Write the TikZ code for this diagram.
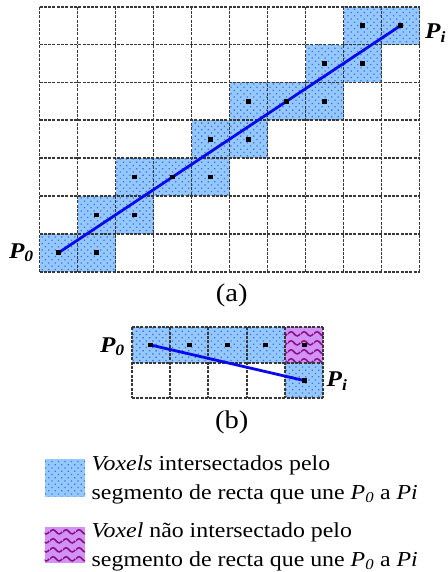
\documentclass[tikz,border=0pt]{standalone}
\usepackage{fontspec}
\setmainfont[FakeStretch=1.12]{Liberation Serif}
\usetikzlibrary{patterns.meta}
\definecolor{cellblue}{RGB}{148,200,255}
\definecolor{dotblue}{RGB}{60,110,250}
\definecolor{cellpurple}{RGB}{210,145,245}
\definecolor{wavepurple}{RGB}{135,15,135}
\definecolor{gridgray}{RGB}{55,55,55}
\definecolor{segblue}{RGB}{10,10,235}
\tikzdeclarepattern{
  name=voxwaves,
  bottom left={(0pt,0pt)},
  top right={(12.5pt,9pt)},
  tile size={(12.5pt,9pt)},
  code={
    \draw[line width=1.6pt] (0pt,4.5pt) sin (3.125pt,6.8pt) cos (6.25pt,4.5pt) sin (9.375pt,2.2pt) cos (12.5pt,4.5pt);
  }
}
\begin{document}
\begin{tikzpicture}[x=1pt,y=-1pt,
  voxblue/.style={fill=cellblue, postaction={pattern={Dots[distance=4.6pt,radius=0.9pt,angle=45]}, pattern color=dotblue}},
  voxpurple/.style={fill=cellpurple, postaction={pattern=voxwaves, pattern color=wavepurple}},
  gridline/.style={draw=gridgray, line width=1.8pt, dash pattern=on 3pt off 1.3pt},
  segline/.style={draw=segblue, line width=2.8pt},
  centerdot/.style={fill=black},
  plabel/.style={font=\fontsize{22.5}{26}\selectfont\bfseries\itshape, inner sep=0pt},
  captext/.style={font=\fontsize{25.5}{30}\selectfont, inner sep=0pt, anchor=base},
  legendtext/.style={font=\fontsize{21.3}{29}\selectfont, inner sep=0pt, anchor=base west},
]
\useasboundingbox (0,0) rectangle (447,572);

% ---------- (a) ----------
\foreach \c/\r in {8/0,9/0,7/1,8/1,5/2,6/2,7/2,4/3,5/3,2/4,3/4,4/4,1/5,2/5,0/6,1/6}
  \fill[voxblue] ({39.5+38*\c},{6.7+37.857*\r}) rectangle ++(38,37.857);
\foreach \i in {0,...,10}
  \draw[gridline] ({39.5+38*\i},6.7) -- ({39.5+38*\i},271.7);
\foreach \j in {0,...,7}
  \draw[gridline] (39.5,{6.7+37.857*\j}) -- (419.5,{6.7+37.857*\j});
\coordinate (a0) at (58.5,252.77);
\coordinate (ai) at (400.5,25.63);
\draw[segline] (a0) -- (ai);
\foreach \c/\r in {8/0,9/0,7/1,8/1,5/2,6/2,7/2,4/3,5/3,2/4,3/4,4/4,1/5,2/5,0/6,1/6}
  \fill[centerdot] ({39.5+38*\c+19-2.4},{6.7+37.857*\r+18.93-2.4}) rectangle ++(4.8,4.8);
\node[plabel, anchor=base east] (pa0) at (34,258) {P\textsubscript{0}};
\node[plabel, anchor=base west] (pai) at (425,38.5) {P\textsubscript{i}};
\node[captext] (capa) at (231.7,301.5) {(a)};

% ---------- (b) ----------
\foreach \c/\r in {0/0,1/0,2/0,3/0,4/1}
  \fill[voxblue] ({131.7+38.33*\c},{327.3+35.5*\r}) rectangle ++(38.33,35.5);
\fill[voxpurple] ({131.7+38.33*4},327.3) rectangle ++(38.33,35.5);
\foreach \i in {0,...,5}
  \draw[gridline] ({131.7+38.33*\i},327.3) -- ({131.7+38.33*\i},398.3);
\foreach \j in {0,...,2}
  \draw[gridline] (131.7,{327.3+35.5*\j}) -- (323.35,{327.3+35.5*\j});
\coordinate (b0) at (150.865,345.05);
\coordinate (bi) at (304.185,380.55);
\draw[segline] (b0) -- (bi);
\foreach \c/\r in {0/0,1/0,2/0,3/0,4/0,4/1}
  \fill[centerdot] ({131.7+38.33*\c+19.165-2.4},{327.3+35.5*\r+17.75-2.4}) rectangle ++(4.8,4.8);
\node[plabel, anchor=base east] (pb0) at (125,352.5) {P\textsubscript{0}};
\node[plabel, anchor=base west] (pbi) at (326.5,386.5) {P\textsubscript{i}};
\node[captext] (capb) at (231.7,428.5) {(b)};

% ---------- legend ----------
\fill[voxblue] (45,459.3) rectangle (85,496.7);
\fill[voxpurple] (44.5,527.3) rectangle (85,562.7);
\node[legendtext] (l1a) at (91.5,470.5) {\textit{Voxels} intersectados pelo};
\node[legendtext] (l1b) at (91.5,499.5) {segmento de recta que une \textit{P\textsubscript{0}} a \textit{Pi}};
\node[legendtext] (l2a) at (91.5,537.5) {\textit{Voxel} não intersectado pelo};
\node[legendtext] (l2b) at (91.5,566.5) {segmento de recta que une \textit{P\textsubscript{0}} a \textit{Pi}};
\end{tikzpicture}
\end{document}
